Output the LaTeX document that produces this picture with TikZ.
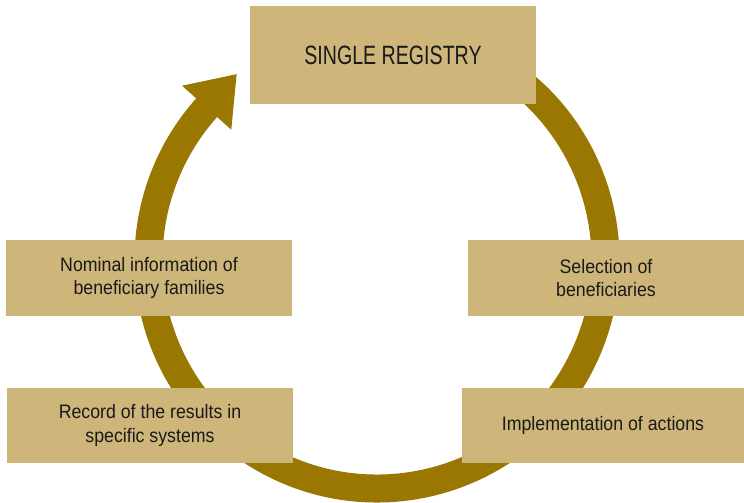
\documentclass[tikz,border=0pt]{standalone}
\usepackage{fontspec}
\setmainfont[FakeStretch=0.91]{Liberation Sans}
\newfontfamily\regfont[FakeStretch=0.74]{Liberation Sans}
\usetikzlibrary{calc}
\definecolor{boxc}{RGB}{206,182,122}
\definecolor{ringc}{RGB}{153,119,0}
\definecolor{txtc}{RGB}{26,26,26}
\tikzset{
  stagebox/.style={fill=boxc, draw=none, inner sep=0pt, align=center, text=txtc,
    font=\fontsize{19.5}{23.5}\selectfont},
  ring/.style={draw=ringc, line width=28pt, line cap=butt},
  ringhead/.style={fill=ringc, draw=none}
}
\begin{document}
\begin{tikzpicture}[x=1pt,y=1pt]
\useasboundingbox (0,0) rectangle (744,503);
\coordinate (c) at (377,243);
% cycle ring
\draw[ring] ($(c)+(60:228.5)$) arc[start angle=60, end angle=-223, radius=228.5];
% arrow head
\coordinate (m) at ($(c)+(138.2:228.5)$);
\coordinate (tip) at ($(m)+(48.2:45)$);
\coordinate (b1) at ($(m)+(138.2:33)$);
\coordinate (b2) at ($(m)+(318.2:33)$);
\fill[ringhead] (b1) -- (tip) -- (b2) -- cycle;
% boxes
\node[stagebox, minimum width=286pt, minimum height=98pt,
  font=\regfont\fontsize{26.5}{30}\selectfont] (reg) at (393,448) {SINGLE REGISTRY};
\node[stagebox, minimum width=286pt, minimum height=76pt] (nom) at (149,225)
  {Nominal information of\\beneficiary families};
\node[stagebox, minimum width=286pt, minimum height=75pt] (rec) at (150,77.5)
  {Record of the results in\\specific systems};
\node[stagebox, minimum width=276pt, minimum height=76pt] (sel) at (606,225)
  {Selection of\\beneficiaries};
\node[stagebox, minimum width=282pt, minimum height=75pt] (imp) at (603,77.5)
  {Implementation of actions};
\end{tikzpicture}
\end{document}
